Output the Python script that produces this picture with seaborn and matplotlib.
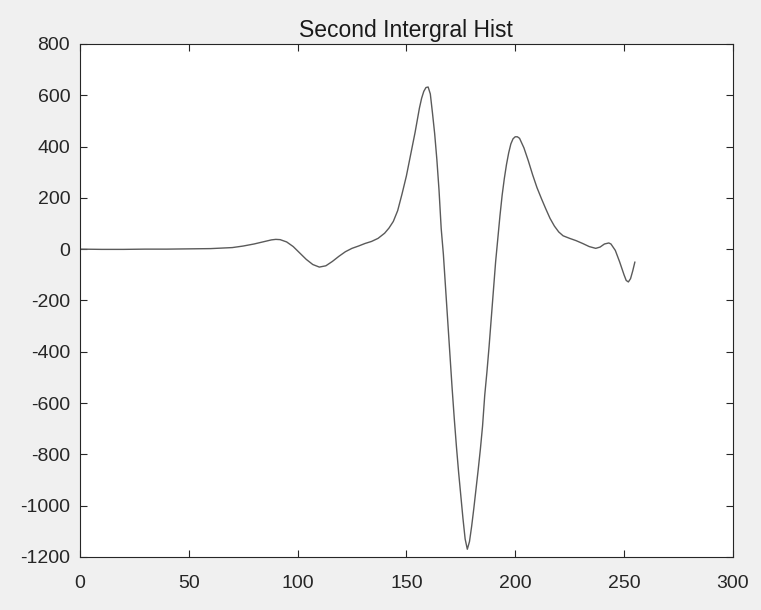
import matplotlib
matplotlib.use("Agg")
import matplotlib.pyplot as plt
import seaborn as sns

# points
x_vals = [0, 10, 20, 30, 40, 50, 60, 65, 70, 75, 80, 85, 88, 90, 92, 95, 98,
          101, 104, 107, 110, 113, 116, 119, 122, 125, 128, 131, 134, 137, 140,
          142, 144, 146, 148, 150, 152, 154, 156, 157, 158, 159, 160, 161, 162,
          163, 164, 165, 166, 167, 168, 169, 170, 171, 172, 173, 174, 175, 176,
          177, 178, 179, 180, 181, 182, 183, 184, 185, 186, 187, 188, 189, 190,
          191, 192, 193, 194, 195, 196, 197, 198, 199, 200, 201, 202, 204, 206,
          208, 210, 212, 214, 216, 218, 220, 222, 225, 228, 231, 234, 237, 239,
          241, 243, 244, 246, 248, 250, 251, 252, 253, 254, 255]
y_vals = [0, -1, -1, 0, 0, 1, 2, 4, 6, 12, 20, 30, 36, 38, 37, 28, 10,
          -15, -40, -60, -70, -65, -48, -28, -10, 3, 12, 22, 30, 42, 62,
          82, 108, 150, 215, 285, 370, 455, 550, 588, 615, 630, 632, 605, 530,
          450, 350, 230, 80, -20, -150, -280, -410, -540, -660, -770, -870, -960, -1050,
          -1130, -1170, -1140, -1080, -1010, -935, -860, -780, -690, -570, -480, -380, -270, -160,
          -50, 40, 130, 210, 275, 330, 375, 410, 430, 438, 438, 432, 395, 345,
          290, 240, 198, 158, 120, 90, 67, 52, 42, 33, 22, 10, 3, 8,
          20, 24, 20, -5, -50, -100, -122, -128, -115, -85, -50]

x_ticks = [0, 50, 100, 150, 200, 250, 300]
y_ticks = [-1200, -1000, -800, -600, -400, -200, 0, 200, 400, 600, 800]

sns.set_style("white")
plt.rcParams['font.family'] = ['Liberation Sans', 'DejaVu Sans']
plt.rcParams['axes.unicode_minus'] = False

fig = plt.figure(figsize=(7.61, 6.10), dpi=100, facecolor='#f0f0f0')
ax = fig.add_axes([0.105, 0.087, 0.858, 0.841])
ax.set_facecolor('white')

sns.lineplot(x=x_vals, y=y_vals, ax=ax, color='#5a5a5a', linewidth=1.0,
             estimator=None, sort=False)

ax.set_xlim(0, 300)
ax.set_ylim(-1200, 800)
ax.set_xticks(x_ticks)
ax.set_yticks(y_ticks)
ax.tick_params(direction='in', length=5, width=0.8, color='#262626',
               labelsize=14, labelcolor='#262626', top=True, right=True,
               bottom=True, left=True)
ax.tick_params(axis='x', pad=13)
ax.tick_params(axis='y', pad=7)
for s in ax.spines.values():
    s.set_visible(True)
    s.set_color('#262626')
    s.set_linewidth(0.8)

ax.set_title('Second Intergral Hist', fontsize=16.5, color='#1a1a1a', pad=5)

fig.savefig('out.png', dpi=100, facecolor=fig.get_facecolor())
